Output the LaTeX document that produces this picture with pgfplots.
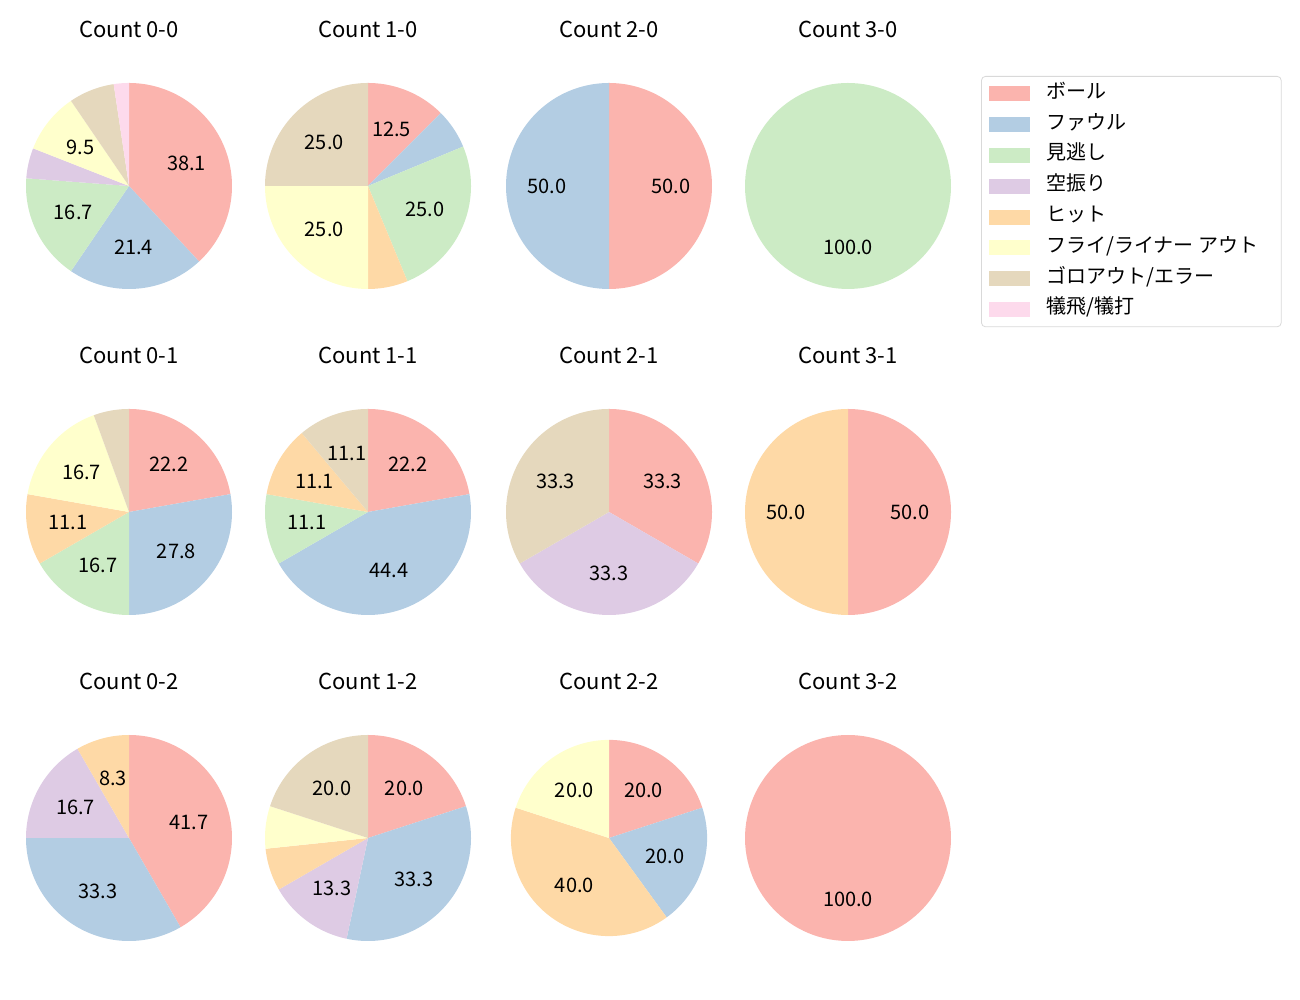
\documentclass[border=0pt]{standalone}
\usepackage{fontspec}
\setmainfont{Noto Sans CJK JP}
\usepackage{pgfplots}
\usepackage{pgfplotstable}
\pgfplotsset{compat=1.18}
\pgfkeys{/pgf/number format/assume math mode=true}

\definecolor{pie0}{HTML}{FBB4AE}
\definecolor{pie1}{HTML}{B3CDE3}
\definecolor{pie2}{HTML}{CCEBC5}
\definecolor{pie3}{HTML}{DECBE4}
\definecolor{pie4}{HTML}{FED9A6}
\definecolor{pie5}{HTML}{FFFFCC}
\definecolor{pie6}{HTML}{E5D8BD}
\definecolor{pie7}{HTML}{FDDAEC}

% pitch counts per result (rows) for each ball-strike count (columns)
\pgfplotstableread{
cat c00 c10 c20 c30 c01 c11 c21 c31 c02 c12 c22 c32
0   16  2   1   0   4   2   1   1   5   3   1   1
1   9   1   1   0   5   4   0   0   4   5   1   0
2   7   4   0   1   3   1   0   0   0   0   0   0
3   2   0   0   0   0   0   1   0   2   2   0   0
4   0   1   0   0   2   1   0   1   1   1   2   0
5   4   4   0   0   3   0   0   0   0   1   1   0
6   3   4   0   0   1   1   1   0   0   3   0   0
7   1   0   0   0   0   0   0   0   0   0   0   0
}\counts

\newcommand\pie[1]{%
  \def\tot{0}%
  \pgfplotsforeachungrouped \r in {0,...,7}{%
    \pgfplotstablegetelem{\r}{#1}\of\counts
    \pgfmathsetmacro\tot{\tot+\pgfplotsretval}%
  }%
  \def\cum{0}%
  \pgfplotsforeachungrouped \r in {0,...,7}{%
    \pgfplotstablegetelem{\r}{#1}\of\counts
    \let\v\pgfplotsretval
    \pgfmathsetmacro\a{90-360*\cum/\tot}%
    \pgfmathsetmacro\cum{\cum+\v}%
    \pgfmathsetmacro\b{90-360*\cum/\tot}%
    \ifdim \v pt>0pt
      \pgfmathsetmacro\m{(\a+\b)/2}%
      \pgfmathsetmacro\p{100*\v/\tot}%
      \edef\doit{\noexpand\addplot[forget plot, draw=none, fill=pie\r, domain=\b:\a, samples=120]
        ({cos(x)},{sin(x)}) -- (axis cs:0,0) -- cycle;}%
      \doit
      \ifdim \p pt>8pt
        \pgfmathsetmacro\lx{0.6*cos(\m)}%
        \pgfmathsetmacro\ly{0.6*sin(\m)}%
        \edef\doit{\noexpand\node[font=\noexpand\fontsize{10pt}{12pt}\noexpand\selectfont]
          at (axis cs:\lx,\ly) {\noexpand\pgfmathprintnumber[fixed,fixed zerofill,precision=1]{\p}};}%
        \doit
      \fi
    \fi
  }%
}

\pgfplotsset{
  pieaxis/.style={
    hide axis, scale only axis, width=103pt, height=103pt,
    xmin=-1, xmax=1, ymin=-1, ymax=1, clip=false, anchor=origin,
    title style={at={(0.5,1.204)}, anchor=center, yshift=0pt,
      font=\fontsize{11pt}{13pt}\selectfont},
  },
}

\begin{document}
\begin{tikzpicture}
\path[use as bounding box] (0,0) rectangle (650pt,500pt);

\begin{axis}[pieaxis, at={(64.5pt,407pt)}, title={Count 0-0}]
\pie{c00}
\end{axis}
\begin{axis}[pieaxis, at={(184pt,407pt)}, title={Count 1-0}]
\pie{c10}
\end{axis}
\begin{axis}[pieaxis, at={(304.5pt,407pt)}, title={Count 2-0}]
\pie{c20}
\end{axis}
\begin{axis}[pieaxis, at={(424pt,407pt)}, title={Count 3-0},
  legend style={at={(1.146,1.034)}, anchor=north west, draw=black!15, rounded corners=2pt,
    font=\fontsize{10pt}{12pt}\selectfont, cells={anchor=west}, row sep=0pt,
    nodes={inner ysep=0pt, text height=10pt, text depth=5.4pt},
    inner xsep=4pt, inner ysep=1pt,
    /tikz/every odd column/.append style={column sep=6pt}},
  legend image code/.code={\fill[#1, sharp corners] (0pt,-3.5pt) rectangle (20pt,3.5pt);}]
\pie{c30}
\addlegendimage{pie0}\addlegendentry{ボール}
\addlegendimage{pie1}\addlegendentry{ファウル}
\addlegendimage{pie2}\addlegendentry{見逃し}
\addlegendimage{pie3}\addlegendentry{空振り}
\addlegendimage{pie4}\addlegendentry{ヒット}
\addlegendimage{pie5}\addlegendentry{フライ/ライナー アウト\kern5.5pt}
\addlegendimage{pie6}\addlegendentry{ゴロアウト/エラー}
\addlegendimage{pie7}\addlegendentry{犠飛/犠打}
\end{axis}

\begin{axis}[pieaxis, at={(64.5pt,244pt)}, title={Count 0-1}]
\pie{c01}
\end{axis}
\begin{axis}[pieaxis, at={(184pt,244pt)}, title={Count 1-1}]
\pie{c11}
\end{axis}
\begin{axis}[pieaxis, at={(304.5pt,244pt)}, title={Count 2-1}]
\pie{c21}
\end{axis}
\begin{axis}[pieaxis, at={(424pt,244pt)}, title={Count 3-1}]
\pie{c31}
\end{axis}

\begin{axis}[pieaxis, at={(64.5pt,81pt)}, title={Count 0-2}]
\pie{c02}
\end{axis}
\begin{axis}[pieaxis, at={(184pt,81pt)}, title={Count 1-2}]
\pie{c12}
\end{axis}
\begin{axis}[pieaxis, at={(304.5pt,81pt)}, title={Count 2-2},
  xmin=-1.05, xmax=1.05, ymin=-1.05, ymax=1.05]
\pie{c22}
\end{axis}
\begin{axis}[pieaxis, at={(424pt,81pt)}, title={Count 3-2}]
\pie{c32}
\end{axis}
\end{tikzpicture}
\end{document}
